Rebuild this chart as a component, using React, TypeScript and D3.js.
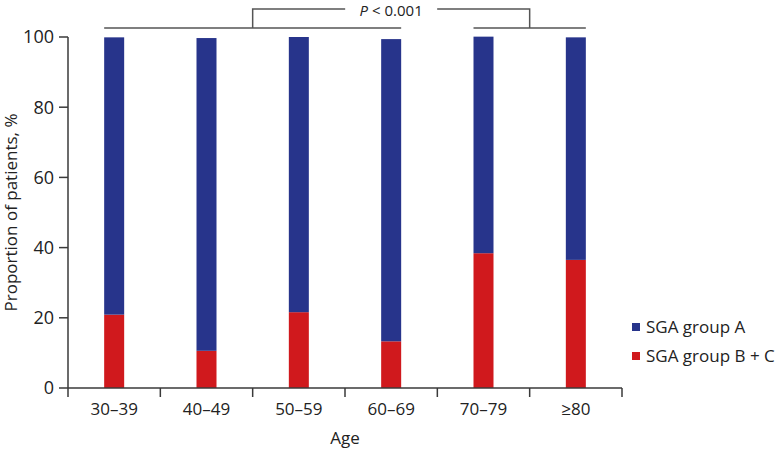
import React from "react";
import { scaleBand, scaleLinear } from "d3";

const ageGroups = ["30–39", "40–49", "50–59", "60–69", "70–79", "≥80"];
const groupBC = [20.9, 10.6, 21.6, 13.3, 38.4, 36.5];
const groupA = [79.0, 89.1, 78.4, 86.1, 61.7, 63.4];
const yTicks = [0, 20, 40, 60, 80, 100];
const seriesNames = ["SGA group A", "SGA group B + C"];
const pLabel = "< 0.001";

const BLUE = "#27348b";
const RED = "#d0191d";
const AXIS = "#3a3a3a";
const FONT = "'Open Sans', sans-serif";

const App = () => {
  const x = scaleBand<string>().domain(ageGroups).range([68, 622]);
  const y = scaleLinear().domain([0, 100]).range([388, 37]);
  const barW = 20;
  const cx = (i: number) => (x(ageGroups[i]) as number) + x.bandwidth() / 2;

  // brackets: bars 1-4 vs bars 5-6
  const g1l = cx(0) - barW / 2;
  const g1r = cx(3) + barW / 2;
  const g2l = cx(4) - barW / 2;
  const g2r = cx(5) + barW / 2;
  const g1m = x(ageGroups[2]) as number;
  const g2m = x(ageGroups[5]) as number;
  const lowY = 28;
  const topY = 9;
  const textMid = (g1m + g2m) / 2;

  return (
    <svg width={775} height={450} style={{ position: "absolute", left: 0, top: 0 }}>
      <rect width={775} height={450} fill="#fff" />

      {/* bars */}
      {ageGroups.map((g, i) => (
        <g key={g}>
          <rect x={cx(i) - barW / 2} y={y(groupBC[i])} width={barW} height={y(0) - y(groupBC[i])} fill={RED} />
          <rect
            x={cx(i) - barW / 2}
            y={y(groupBC[i] + groupA[i])}
            width={barW}
            height={y(groupBC[i]) - y(groupBC[i] + groupA[i])}
            fill={BLUE}
          />
        </g>
      ))}

      {/* y axis */}
      <line x1={68} x2={68} y1={y(100)} y2={y(0)} stroke={AXIS} strokeWidth={1.5} />
      {yTicks.map((t) => (
        <g key={t}>
          <line x1={59} x2={68} y1={y(t)} y2={y(t)} stroke={AXIS} strokeWidth={1.5} />
          <text x={54} y={y(t)} dy="0.36em" textAnchor="end" fontSize={18} fontFamily={FONT} fill="#222">
            {t}
          </text>
        </g>
      ))}
      <text
        transform={`translate(17,${(y(0) + y(100)) / 2}) rotate(-90)`}
        textAnchor="middle"
        fontSize={17}
        fontFamily={FONT}
        fill="#222"
      >
        Proportion of patients, %
      </text>

      {/* x axis */}
      <line x1={68} x2={622} y1={y(0)} y2={y(0)} stroke={AXIS} strokeWidth={1.5} />
      {ageGroups.map((g) => (
        <line key={"t" + g} x1={x(g)} x2={x(g)} y1={y(0)} y2={y(0) + 9} stroke={AXIS} strokeWidth={1.5} />
      ))}
      <line x1={622} x2={622} y1={y(0)} y2={y(0) + 9} stroke={AXIS} strokeWidth={1.5} />
      {ageGroups.map((g, i) => (
        <text key={"l" + g} x={cx(i)} y={409} dy="0.36em" textAnchor="middle" fontSize={17} fontFamily={FONT} fill="#222">
          {g}
        </text>
      ))}
      <text x={345} y={438} dy="0.36em" textAnchor="middle" fontSize={17} fontFamily={FONT} fill="#222">
        Age
      </text>

      {/* significance bracket */}
      <g stroke="#555" strokeWidth={1.5} fill="none">
        <line x1={g1l} x2={g1r} y1={lowY} y2={lowY} />
        <line x1={g2l} x2={g2r} y1={lowY} y2={lowY} />
        <polyline points={`${g1m},${lowY} ${g1m},${topY} ${textMid - 46},${topY}`} />
        <polyline points={`${textMid + 46},${topY} ${g2m},${topY} ${g2m},${lowY}`} />
      </g>
      <text x={textMid} y={15.5} textAnchor="middle" fontSize={15} fontFamily={FONT} fill="#222">
        <tspan fontStyle="italic">P</tspan> {pLabel}
      </text>

      {/* legend */}
      {seriesNames.map((s, i) => (
        <g key={s} transform={`translate(632,${327 + i * 29})`}>
          <rect x={0} y={-4} width={8} height={8} fill={i === 0 ? BLUE : RED} />
          <text x={14} y={0} dy="0.36em" fontSize={17} fontFamily={FONT} fill="#222">
            {s}
          </text>
        </g>
      ))}
    </svg>
  );
};

export default App;
